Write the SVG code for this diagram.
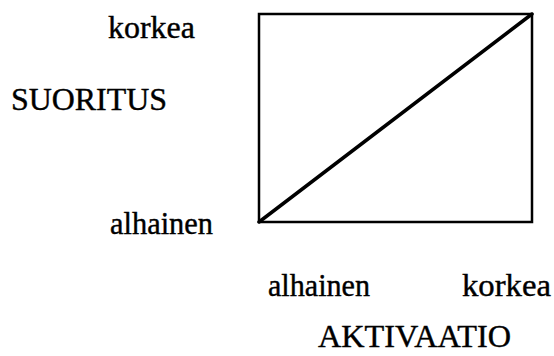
<svg xmlns="http://www.w3.org/2000/svg" width="554" height="356" viewBox="0 0 554 356">
<style>
text{font-family:"Liberation Serif","Times New Roman",serif;font-size:31px;fill:#000;stroke:#000;stroke-width:0.4}
.box{fill:none;stroke:#000;stroke-width:2.5}
.line{stroke:#000;stroke-width:3.5;stroke-linecap:round}
</style>
<rect width="554" height="356" fill="#fff"/>
<g id="chart">
<rect class="box" x="259" y="14" width="273" height="208"/>
</g>
<g id="connectors">
<line class="line" x1="259" y1="222" x2="532" y2="14"/>
</g>
<g id="y-labels">
<text x="108" y="38" textLength="87" lengthAdjust="spacingAndGlyphs">korkea</text>
<text x="11" y="110" textLength="156" lengthAdjust="spacingAndGlyphs">SUORITUS</text>
<text x="110" y="234" textLength="103" lengthAdjust="spacingAndGlyphs">alhainen</text>
</g>
<g id="x-labels">
<text x="268" y="296" textLength="102" lengthAdjust="spacingAndGlyphs">alhainen</text>
<text x="462" y="296" textLength="89" lengthAdjust="spacingAndGlyphs">korkea</text>
<text x="318" y="347" textLength="193" lengthAdjust="spacingAndGlyphs">AKTIVAATIO</text>
</g>
</svg>
